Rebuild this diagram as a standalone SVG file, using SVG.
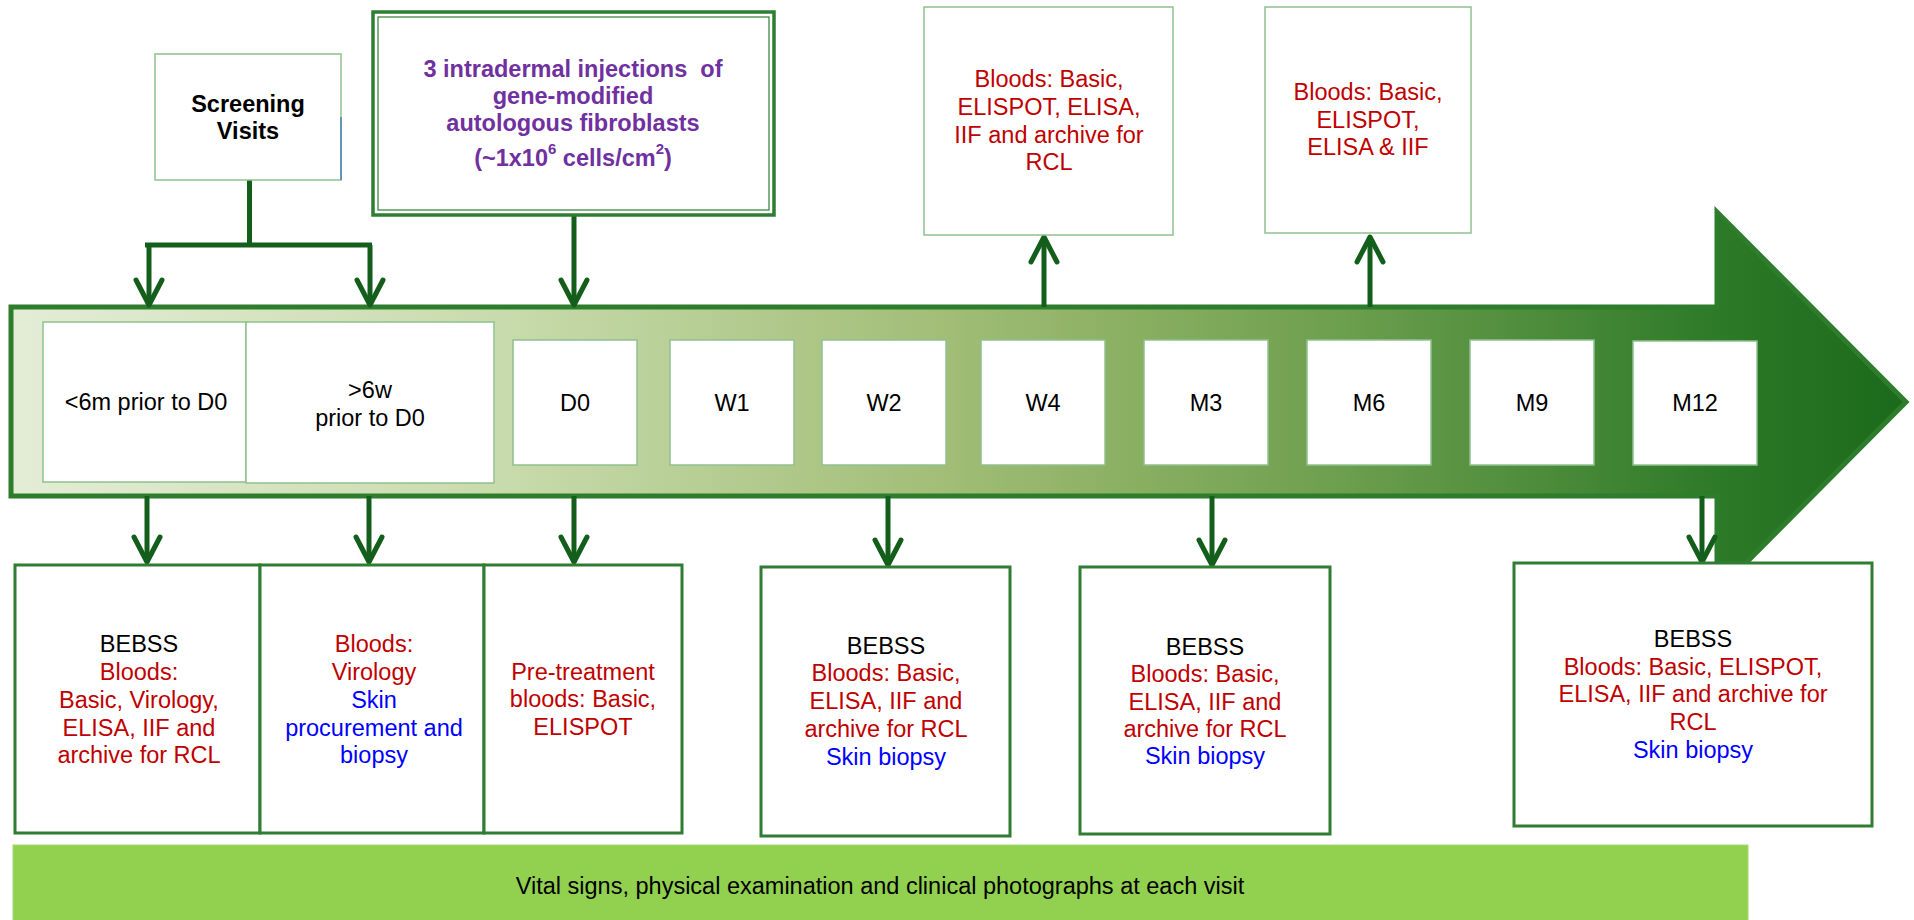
<svg xmlns="http://www.w3.org/2000/svg" width="1914" height="920" viewBox="0 0 1914 920">
<defs>
<style>
text{font-family:"Liberation Sans",Arial,sans-serif;font-size:23.5px;text-anchor:middle}
.b{font-weight:bold}
.k{fill:#000}
.r{fill:#c00000}
.u{fill:#0000ff}
.p{fill:#7030a0}
.lbox{fill:#fff;stroke:#8fc18f;stroke-width:1.5}
.dbox{fill:#fff;stroke:#2e7d32;stroke-width:3}
.con{fill:none;stroke:#145e1c;stroke-width:5}
.arr{fill:none;stroke:#145e1c;stroke-width:5;marker-end:url(#ah)}
</style>
<linearGradient id="tl" gradientUnits="userSpaceOnUse" x1="11" y1="0" x2="1906" y2="0">
<stop offset="0" stop-color="#e3edd6"/>
<stop offset="0.26" stop-color="#c8dbac"/>
<stop offset="0.495" stop-color="#a1bd76"/>
<stop offset="0.6" stop-color="#88ae60"/>
<stop offset="0.706" stop-color="#6b9e4d"/>
<stop offset="0.812" stop-color="#4b8b3a"/>
<stop offset="0.9" stop-color="#2d7a28"/>
<stop offset="1" stop-color="#1b6a1b"/>
</linearGradient>
<marker id="ah" viewBox="-32 -18 38 36" refX="0" refY="0" markerWidth="38" markerHeight="36" orient="auto" markerUnits="userSpaceOnUse">
<path d="M-25,-13 L0,0 L-25,13" fill="none" stroke="#145e1c" stroke-width="5" stroke-linejoin="round" stroke-linecap="round"/>
</marker>
</defs>

<g id="timeline">
<polygon points="11,307 1717,307 1717,212 1906,402 1717,592 1717,496 11,496" fill="url(#tl)" stroke="#2d7d2d" stroke-width="5" stroke-linejoin="miter"/>
</g>

<g id="connectors">
<path class="con" d="M249.5,180 V245 M145,245 H372"/>
<path class="arr" d="M149,245 V305"/>
<path class="arr" d="M370,245 V305"/>
<path class="arr" d="M574,215 V305"/>
<path class="arr" d="M1044,307 V237"/>
<path class="arr" d="M1370,307 V237"/>
<path class="arr" d="M147,496 V562"/>
<path class="arr" d="M369,496 V562"/>
<path class="arr" d="M574,496 V562"/>
<path class="arr" d="M888,496 V565"/>
<path class="arr" d="M1212,496 V565"/>
<path class="arr" d="M1702,496 V562"/>
</g>

<g id="screening">
<rect class="lbox" x="155" y="54" width="186" height="126"/>
<line x1="341" y1="117" x2="341" y2="180" stroke="#4f81bd" stroke-width="1.5"/>
<text class="b k" x="248" y="112">Screening</text>
<text class="b k" x="248" y="139">Visits</text>
</g>

<g id="injection">
<rect x="373" y="12" width="401" height="203" fill="#fff" stroke="#2e7d32" stroke-width="3.5"/>
<rect x="378" y="17" width="391" height="193" fill="none" stroke="#2e7d32" stroke-width="1.2"/>
<text class="b p" x="573" y="77" xml:space="preserve">3 intradermal injections  of</text>
<text class="b p" x="573" y="104">gene-modified</text>
<text class="b p" x="573" y="131">autologous fibroblasts</text>
<text class="b p" x="573" y="166">(~1x10<tspan font-size="15" dy="-12">6</tspan><tspan dy="12"> cells/cm</tspan><tspan font-size="15" dy="-12">2</tspan><tspan dy="12">)</tspan></text>
</g>

<g id="w4-bloods">
<rect class="lbox" x="924" y="7" width="249" height="228"/>
<text class="r" x="1049" y="87">Bloods: Basic,</text>
<text class="r" x="1049" y="115">ELISPOT, ELISA,</text>
<text class="r" x="1049" y="143">IIF and archive for</text>
<text class="r" x="1049" y="170">RCL</text>
</g>

<g id="m6-bloods">
<rect class="lbox" x="1265" y="7" width="206" height="226"/>
<text class="r" x="1368" y="100">Bloods: Basic,</text>
<text class="r" x="1368" y="128">ELISPOT,</text>
<text class="r" x="1368" y="155">ELISA &amp; IIF</text>
</g>

<g id="t-6m">
<rect class="lbox" x="43" y="322" width="203" height="160"/>
<text class="k" x="146" y="410">&lt;6m prior to D0</text>
</g>
<g id="t-6w">
<rect class="lbox" x="246" y="322" width="248" height="161"/>
<text class="k" x="370" y="398">&gt;6w</text>
<text class="k" x="370" y="426">prior to D0</text>
</g>
<g id="t-d0"><rect class="lbox" x="513" y="340" width="124" height="125"/><text class="k" x="575" y="411">D0</text></g>
<g id="t-w1"><rect class="lbox" x="670" y="340" width="124" height="125"/><text class="k" x="732" y="411">W1</text></g>
<g id="t-w2"><rect class="lbox" x="822" y="340" width="124" height="125"/><text class="k" x="884" y="411">W2</text></g>
<g id="t-w4"><rect class="lbox" x="981" y="340" width="124" height="125"/><text class="k" x="1043" y="411">W4</text></g>
<g id="t-m3"><rect class="lbox" x="1144" y="340" width="124" height="125"/><text class="k" x="1206" y="411">M3</text></g>
<g id="t-m6"><rect class="lbox" x="1307" y="340" width="124" height="125"/><text class="k" x="1369" y="411">M6</text></g>
<g id="t-m9"><rect class="lbox" x="1470" y="340" width="124" height="125"/><text class="k" x="1532" y="411">M9</text></g>
<g id="t-m12"><rect class="lbox" x="1633" y="341" width="124" height="124"/><text class="k" x="1695" y="411">M12</text></g>

<g id="b-screen1">
<rect class="dbox" x="15" y="565" width="245" height="268"/>
<text class="k" x="139" y="652">BEBSS</text>
<text class="r" x="139" y="680">Bloods:</text>
<text class="r" x="139" y="708">Basic, Virology,</text>
<text class="r" x="139" y="736">ELISA, IIF and</text>
<text class="r" x="139" y="763">archive for RCL</text>
</g>
<g id="b-screen2">
<rect class="dbox" x="260" y="565" width="224" height="268"/>
<text class="r" x="374" y="652">Bloods:</text>
<text class="r" x="374" y="680">Virology</text>
<text class="u" x="374" y="708">Skin</text>
<text class="u" x="374" y="736">procurement and</text>
<text class="u" x="374" y="763">biopsy</text>
</g>
<g id="b-d0">
<rect class="dbox" x="484" y="565" width="198" height="268"/>
<text class="r" x="583" y="680">Pre-treatment</text>
<text class="r" x="583" y="707">bloods: Basic,</text>
<text class="r" x="583" y="735">ELISPOT</text>
</g>
<g id="b-w2">
<rect class="dbox" x="761" y="567" width="249" height="269"/>
<text class="k" x="886" y="654">BEBSS</text>
<text class="r" x="886" y="681">Bloods: Basic,</text>
<text class="r" x="886" y="709">ELISA, IIF and</text>
<text class="r" x="886" y="737">archive for RCL</text>
<text class="u" x="886" y="765">Skin biopsy</text>
</g>
<g id="b-m3">
<rect class="dbox" x="1080" y="567" width="250" height="267"/>
<text class="k" x="1205" y="655">BEBSS</text>
<text class="r" x="1205" y="682">Bloods: Basic,</text>
<text class="r" x="1205" y="710">ELISA, IIF and</text>
<text class="r" x="1205" y="737">archive for RCL</text>
<text class="u" x="1205" y="764">Skin biopsy</text>
</g>
<g id="b-m12">
<rect class="dbox" x="1514" y="563" width="358" height="263"/>
<text class="k" x="1693" y="647">BEBSS</text>
<text class="r" x="1693" y="675">Bloods: Basic, ELISPOT,</text>
<text class="r" x="1693" y="702">ELISA, IIF and archive for</text>
<text class="r" x="1693" y="730">RCL</text>
<text class="u" x="1693" y="758">Skin biopsy</text>
</g>

<g id="vitals">
<rect x="13" y="845" width="1735" height="80" fill="#92d050" stroke="#a6d96e" stroke-width="1"/>
<text class="k" x="880" y="894">Vital signs, physical examination and clinical photographs at each visit</text>
</g>
</svg>
